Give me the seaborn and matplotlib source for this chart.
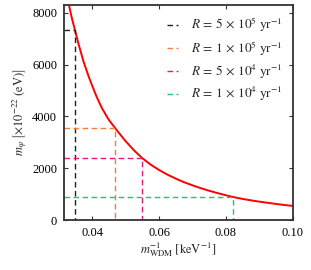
import matplotlib
matplotlib.use("Agg")
import matplotlib.pyplot as plt
import seaborn as sns
import pandas as pd

# curve
inv_mass = [0.0331, 0.034, 0.035, 0.036, 0.0375, 0.039, 0.040, 0.0415, 0.043,
            0.045, 0.0475, 0.050, 0.0525, 0.055, 0.0575, 0.060, 0.0625, 0.065,
            0.0675, 0.070, 0.0725, 0.075, 0.0775, 0.080, 0.0825, 0.085, 0.0875,
            0.090, 0.0925, 0.095, 0.0975, 0.100]
m_psi = [8300, 7780, 7280, 6780, 6100, 5540, 5200, 4720, 4310,
         3870, 3450, 3050, 2695, 2390, 2140, 1935, 1755, 1600,
         1460, 1340, 1230, 1130, 1040, 955, 880, 815, 760,
         710, 665, 620, 580, 545]

# crossing points for each rate
rate_labels = [r"$R \,=\, 5 \,\times\, 10^5\ \mathrm{yr}^{-1}$",
               r"$R \,=\, 1 \,\times\, 10^5\ \mathrm{yr}^{-1}$",
               r"$R \,=\, 5 \,\times\, 10^4\ \mathrm{yr}^{-1}$",
               r"$R \,=\, 1 \,\times\, 10^4\ \mathrm{yr}^{-1}$"]
rate_x = [0.0349, 0.0469, 0.0549, 0.0820]
rate_y = [7340, 3550, 2385, 880]
rate_colors = ["#222222", "#f07f3c", "#e8197c", "#22c46e"]

x_lim = (0.03164, 0.1)
y_lim = (0, 8300)

sns.set_style("ticks")
plt.rcParams["font.family"] = ["Liberation Serif", "DejaVu Serif"]
plt.rcParams["mathtext.fontset"] = "stix"

fig = plt.figure(figsize=(3.11, 2.70), dpi=100)
ax = fig.add_axes([0.206, 0.185, 0.736, 0.796])

df = pd.DataFrame({"x": inv_mass, "y": m_psi})
sns.lineplot(data=df, x="x", y="y", color="red", lw=1.4, ax=ax, legend=False)

for lab, x0, y0, c in zip(rate_labels, rate_x, rate_y, rate_colors):
    seg = pd.DataFrame({"x": [x_lim[0], x0, x0], "y": [y0, y0, 0]})
    sns.lineplot(data=seg, x="x", y="y", sort=False, estimator=None, color=c,
                 lw=1.0, linestyle=(0, (4, 2.5)), label=lab, ax=ax)

ax.set_xlim(*x_lim)
ax.set_ylim(*y_lim)
ax.set_xticks([0.04, 0.06, 0.08, 0.10])
ax.set_xticklabels(["0.04", "0.06", "0.08", "0.10"])
ax.set_yticks([0, 2000, 4000, 6000, 8000])
ax.tick_params(direction="in", top=True, right=True, length=3, width=0.8,
               labelsize=9, pad=5, colors="#333333", labelcolor="black")
for s in ax.spines.values():
    s.set_linewidth(1.3)
    s.set_color("#333333")

ax.set_xlabel(r"$m_{\mathrm{WDM}}^{-1}\ \left[\mathrm{keV}^{-1}\right]$", fontsize=9, labelpad=1)
ax.set_ylabel(r"$m_{\psi}\ \left[\times 10^{-22}\ (\mathrm{eV})\right]$", fontsize=9, labelpad=2)

ax.legend(loc="upper right", frameon=False, fontsize=9.5, handlelength=0.8,
          handletextpad=1.0, labelspacing=0.35, borderaxespad=0.4)

fig.savefig("out.png", dpi=100)
